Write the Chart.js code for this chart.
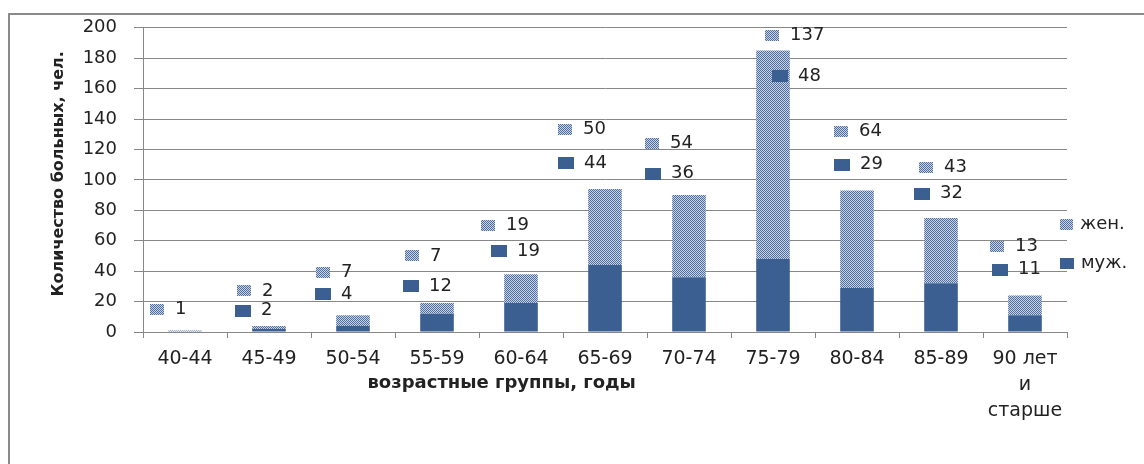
<!DOCTYPE html>
<html>
<head>
<meta charset="utf-8">
<script src="https://cdn.jsdelivr.net/npm/chart.js@4/dist/chart.umd.min.js"></script>
<style>
  html, body { margin: 0; padding: 0; background: #fff; overflow: hidden; }
  #wrap { position: relative; width: 1144px; height: 464px; }
  #frame { position: absolute; left: 8px; top: 13px; width: 1200px; height: 500px; border: 2px solid #8a8a8a; }
  #c { position: absolute; left: 0; top: 0; }
</style>
</head>
<body>
<div id="wrap">
  <div id="frame"></div>
  <canvas id="c" width="1144" height="464"></canvas>
</div>
<script>
// age groups and patients count
const categories = ['40-44', '45-49', '50-54', '55-59', '60-64', '65-69', '70-74', '75-79', '80-84', '85-89', ['90 лет', 'и', 'старше']];
const muzh = [0, 2, 4, 12, 19, 44, 36, 48, 29, 32, 11];
const zhen = [1, 2, 7, 7, 19, 50, 54, 137, 64, 43, 13];
const yTicks = { min: 0, max: 200, step: 20 };

// where the value tags sit (x: shift in categories, y: value units) - moved by hand in the original
const zhenTagDx = [-0.42, -0.38, -0.44, -0.38, -0.48, -0.56, -0.52, -0.10, -0.27, -0.26, -0.42];
const zhenTagY = [15, 27, 39, 50, 70, 133, 124, 195, 132, 108, 56];
const muzhTagDx = [null, -0.40, -0.45, -0.40, -0.36, -0.56, -0.52, -0.01, -0.27, -0.32, -0.39];
const muzhTagY = [null, 14, 25, 30, 53, 111, 104, 168, 110, 91, 41];

const darkBlue = '#3a5f90';
const textColor = '#222';
const gridColor = '#878787';
const font = '"DejaVu Sans", Verdana, sans-serif';

// dotted fill for жен.
function makePattern() {
  const p = document.createElement('canvas');
  p.width = 2; p.height = 2;
  const pc = p.getContext('2d');
  pc.fillStyle = '#c8d3e6';
  pc.fillRect(0, 0, 2, 2);
  pc.fillStyle = '#4d6e9e';
  pc.fillRect(0, 0, 1, 1);
  pc.fillRect(1, 1, 1, 1);
  return document.getElementById('c').getContext('2d').createPattern(p, 'repeat');
}
const dotted = makePattern();

function drawTag(ctx, x, y, value, fill, w, h, gap) {
  ctx.fillStyle = fill;
  ctx.fillRect(Math.round(x), Math.round(y - h / 2), w, h);
  ctx.fillStyle = textColor;
  ctx.fillText(String(value), Math.round(x) + w + gap, y);
}

const tagsPlugin = {
  id: 'tags',
  afterDatasetsDraw(chart) {
    const ctx = chart.ctx;
    const x = chart.scales.x, y = chart.scales.y;
    ctx.save();
    ctx.font = '18px ' + font;
    ctx.textBaseline = 'middle';
    ctx.textAlign = 'left';
    for (let i = 0; i < categories.length; i++) {
      if (zhenTagY[i] !== null) {
        drawTag(ctx, x.getPixelForValue(i + zhenTagDx[i]), y.getPixelForValue(zhenTagY[i]), zhen[i], dotted, 14, 11, 11);
      }
      if (muzhTagY[i] !== null) {
        drawTag(ctx, x.getPixelForValue(i + muzhTagDx[i]), y.getPixelForValue(muzhTagY[i]), muzh[i], darkBlue, 16, 12, 10);
      }
    }

    // legend on the right
    const area = chart.chartArea;
    drawTag(ctx, area.right - 7, y.getPixelForValue(71), 'жен.', dotted, 13, 11, 7);
    drawTag(ctx, area.right - 7, y.getPixelForValue(45), 'муж.', darkBlue, 14, 11, 7);

    // axis titles
    ctx.fillStyle = textColor;
    ctx.textAlign = 'center';
    ctx.font = 'bold 18px ' + font;
    ctx.fillText('возрастные группы, годы', x.getPixelForValue(3.77), area.bottom + 51);
    ctx.font = 'bold 16px ' + font;
    ctx.translate(59, (area.top + area.bottom) / 2 - 6);
    ctx.rotate(-Math.PI / 2);
    ctx.fillText('Количество больных, чел.', 0, 0);
    ctx.restore();
  }
};

new Chart(document.getElementById('c'), {
  type: 'bar',
  data: {
    labels: categories,
    datasets: [
      { label: 'муж.', data: muzh, backgroundColor: darkBlue, borderWidth: 0 },
      { label: 'жен.', data: zhen, backgroundColor: dotted, borderWidth: 0 }
    ]
  },
  options: {
    responsive: false,
    animation: false,
    events: [],
    layout: { padding: { top: 27, right: 77, left: 0, bottom: 0 } },
    datasets: { bar: { barPercentage: 0.4, categoryPercentage: 1 } },
    plugins: { legend: { display: false }, tooltip: { enabled: false } },
    scales: {
      x: {
        stacked: true,
        grid: { offset: true, drawOnChartArea: false, color: gridColor, tickLength: 6 },
        border: { color: gridColor },
        ticks: { color: textColor, padding: 8, maxRotation: 0, autoSkip: false, font: { family: font, size: 19, lineHeight: 1.37 } },
        afterFit: function (s) { s.height = 132; }
      },
      y: {
        stacked: true,
        min: yTicks.min,
        max: yTicks.max,
        grid: { color: gridColor, tickLength: 9 },
        border: { color: gridColor },
        ticks: { stepSize: yTicks.step, color: textColor, padding: 17, font: { family: font, size: 18 } },
        afterFit: function (s) { s.width = 143; }
      }
    }
  },
  plugins: [tagsPlugin]
});
</script>
</body>
</html>
